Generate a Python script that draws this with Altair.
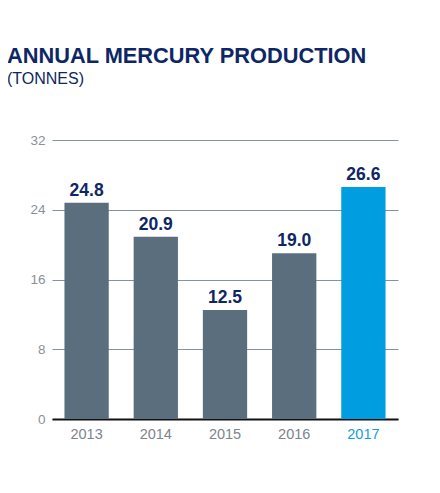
import altair as alt
import pandas as pd

years = ["2013", "2014", "2015", "2016", "2017"]
values = [24.8, 20.9, 12.5, 19.0, 26.6]
labels = ["24.8", "20.9", "12.5", "19.0", "26.6"]
highlight = [False, False, False, False, True]
y_ticks = [0, 8, 16, 24, 32]

df = pd.DataFrame({"year": years, "value": values, "label": labels, "hl": highlight})

NAVY = "#0d2766"
GRAY_BAR = "#5a6e7e"
BLUE = "#009ee0"
FONT = "Liberation Sans"

x = alt.X("year:N", sort=years,
          scale=alt.Scale(paddingInner=0.36, paddingOuter=0.18),
          axis=alt.Axis(title=None, labelAngle=0, ticks=False, domain=True,
                        domainColor="#111111", domainWidth=2,
                        labelFontSize=14.5, labelFont=FONT, labelPadding=8,
                        labelColor=alt.ExprRef("datum.value == '2017' ? '#119fdc' : '#7d848d'")))
y = alt.Y("value:Q", scale=alt.Scale(domain=[0, 32], nice=False),
          axis=alt.Axis(title=None, values=y_ticks, ticks=False, domain=False,
                        gridColor="#8592a0", gridWidth=1, labelFontSize=13.5,
                        labelFont=FONT, labelColor="#8b9098", labelPadding=7))

bars = alt.Chart(df).mark_bar().encode(
    x=x, y=y,
    color=alt.Color("hl:N", scale=alt.Scale(domain=[False, True], range=[GRAY_BAR, BLUE]), legend=None),
)
text = alt.Chart(df).mark_text(dy=-7, baseline="alphabetic", fontSize=17.5, fontWeight="bold",
                               font=FONT, color=NAVY).encode(
    x=alt.X("year:N", sort=years), y="value:Q", text="label:N"
)

chart = (bars + text).properties(
    width=346, height=279,
    background="white",
    padding={"left": 44, "top": 132, "right": 34, "bottom": 60},
    autosize=alt.AutoSizeParams(type="none"),
    title=alt.TitleParams(
        text="ANNUAL MERCURY PRODUCTION",
        subtitle="(TONNES)",
        anchor="start", dx=-23, offset=46,
        font=FONT, fontSize=21.8, fontWeight="bold", color=NAVY,
        subtitleFont=FONT, subtitleFontSize=16, subtitleFontWeight="normal",
        subtitleColor=NAVY, subtitlePadding=3,
    ),
).configure_view(strokeWidth=0, stroke="transparent")

chart.save("out.html", embed_options={"renderer": "svg", "actions": False})
